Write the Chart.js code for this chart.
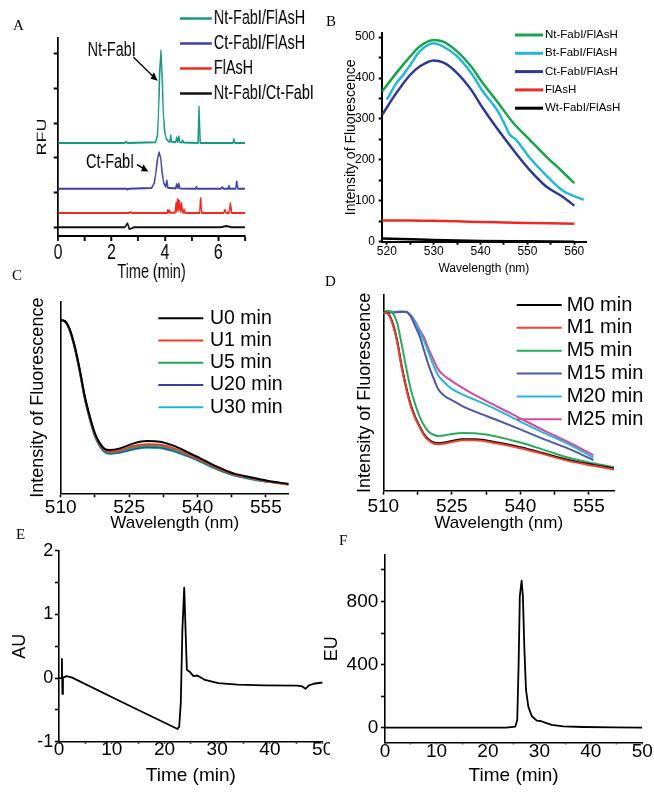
<!DOCTYPE html>
<html>
<head>
<meta charset="utf-8">
<script src="https://cdn.jsdelivr.net/npm/chart.js@4.4.1/dist/chart.umd.min.js"></script>
<style>
html, body { margin: 0; padding: 0; background: #fff; }
#fig { position: relative; width: 654px; height: 792px; overflow: hidden; background: #fff; }
.panel { position: absolute; }
.tag { position: absolute; font-family: 'Liberation Serif', 'Times New Roman', serif; font-size: 15px; line-height: 1; color: #000; }
</style>
</head>
<body>
<div id="fig">
  <div class="panel" style="left:0;top:0;width:458px;height:285px;transform:scaleX(0.72);transform-origin:0 0;"><canvas id="chartA"></canvas></div>
  <div class="panel" style="left:330px;top:0;width:324px;height:285px;"><canvas id="chartB"></canvas></div>
  <div class="panel" style="left:0;top:285px;width:330px;height:250px;"><canvas id="chartC"></canvas></div>
  <div class="panel" style="left:330px;top:285px;width:324px;height:250px;"><canvas id="chartD"></canvas></div>
  <div class="panel" style="left:0;top:530px;width:330px;height:262px;"><canvas id="chartE"></canvas></div>
  <div class="panel" style="left:315px;top:530px;width:339px;height:262px;"><canvas id="chartF"></canvas></div>
  <div class="tag" style="left:13px;top:18px">A</div>
  <div class="tag" style="left:326px;top:14px">B</div>
  <div class="tag" style="left:12px;top:268px">C</div>
  <div class="tag" style="left:325px;top:274px">D</div>
  <div class="tag" style="left:16px;top:527px">E</div>
  <div class="tag" style="left:339px;top:533px">F</div>
</div>
<script>
const FONT = "'Liberation Sans', Arial, Helvetica, sans-serif";

// ---- A: electropherograms (traces stacked, y in tick units) ----
const aTimeTicks = [0, 1, 2, 3, 4, 5, 6, 7];
const aTimeLabels = [0, 2, 4, 6];
const aRfuTicks = [0, 1, 2, 3, 4, 5];
const aNtT = [0, 2.5, 2.55, 2.6, 3.65, 3.72, 3.76, 3.8, 3.85, 3.9, 3.94, 3.99, 4.05, 4.14, 4.19, 4.22, 4.25, 4.4, 4.44, 4.48, 4.52, 4.56, 4.64, 4.67, 4.7, 5.24, 5.28, 5.32, 6.55, 6.58, 6.62, 7];
const aNtV = [2.43, 2.43, 2.46, 2.43, 2.45, 2.63, 3.3, 4.37, 5.09, 4.27, 3.3, 2.77, 2.55, 2.47, 2.46, 2.65, 2.46, 2.45, 2.59, 2.46, 2.62, 2.45, 2.44, 2.5, 2.44, 2.43, 3.47, 2.43, 2.43, 2.54, 2.43, 2.43];
const aCtT = [0, 2.55, 2.6, 2.65, 3.5, 3.6, 3.66, 3.72, 3.78, 3.84, 3.9, 3.96, 4.03, 4.07, 4.11, 4.4, 4.44, 4.48, 4.52, 4.55, 4.58, 5.15, 5.18, 5.21, 6.1, 6.15, 6.2, 6.37, 6.4, 6.43, 6.65, 6.69, 6.73, 7];
const aCtV = [1.11, 1.11, 1.09, 1.11, 1.13, 1.27, 1.56, 1.95, 2.16, 2.0, 1.56, 1.27, 1.16, 1.35, 1.14, 1.12, 1.25, 1.13, 1.27, 1.13, 1.12, 1.11, 1.17, 1.11, 1.11, 1.16, 1.11, 1.11, 1.19, 1.11, 1.11, 1.32, 1.11, 1.11];
const aFlT = [0, 2.65, 2.7, 2.78, 4.08, 4.11, 4.14, 4.17, 4.2, 4.38, 4.42, 4.45, 4.48, 4.51, 4.54, 4.58, 4.62, 4.66, 4.69, 4.72, 4.76, 5.3, 5.34, 5.38, 6.2, 6.25, 6.3, 6.4, 6.45, 6.5, 7];
const aFlV = [0.41, 0.41, 0.44, 0.41, 0.41, 0.5, 0.42, 0.49, 0.42, 0.42, 0.71, 0.45, 0.81, 0.5, 0.77, 0.45, 0.7, 0.43, 0.42, 0.52, 0.41, 0.41, 0.84, 0.41, 0.41, 0.51, 0.41, 0.41, 0.7, 0.41, 0.41];
const aMixT = [0, 2.5, 2.6, 2.67, 2.75, 2.85, 6.1, 6.3, 6.5, 7];
const aMixV = [0, 0, 0.12, -0.05, -0.03, 0, 0, 0.04, 0, 0];
const aNotes = [
  { text: 'Nt-FabI', at: [2.01, 5.09], from: [2.82, 4.9], to: [3.73, 4.22] },
  { text: 'Ct-FabI', at: [1.95, 1.86], from: [2.95, 1.81], to: [3.38, 1.61] }
];

// ---- B: emission spectra ----
const bWaveTicks = [520, 525, 530, 535, 540, 545, 550, 555, 560];
const bWaveLabels = [520, 530, 540, 550, 560];
const bIntTicks = [0, 50, 100, 150, 200, 250, 300, 350, 400, 450, 500];
const bIntLabels = [0, 100, 200, 300, 400, 500];
const bNtX = [519, 522, 525, 527, 530, 532, 535, 538, 540.5, 543.5, 547, 550.5, 554, 557.5, 560];
const bNtY = [367, 412, 453, 477, 493, 489, 465, 428, 387, 343, 290, 249, 208, 171, 143];
const bBtX = [520, 522, 523.3, 525, 527, 530, 532, 535, 538, 540.5, 543.5, 545, 546.2, 547.5, 550.5, 554, 557.5, 562];
const bBtY = [347, 387, 405, 432, 465, 485, 477, 453, 412, 367, 322, 290, 262, 250, 205, 162, 125, 102];
const bCtX = [519, 522, 525, 527, 530, 532, 535, 538, 540.5, 543.5, 547, 550.5, 554, 557.5, 560];
const bCtY = [310, 363, 408, 428, 443, 438, 412, 371, 326, 277, 224, 175, 135, 110, 88];
const bFlX = [519, 525, 530, 535, 540, 545, 550, 555, 560];
const bFlY = [52, 52, 51, 50, 48, 47, 46, 45, 44];
const bWtX = [519, 525, 530, 540, 550, 560];
const bWtY = [8, 6, 4, 2, 1, 0];

// ---- C / D: spectra over time ----
const cdWaveTicks = [510, 517.5, 525, 532.5, 540, 547.5, 555];
const cdWaveLabels = [510, 525, 540, 555];
const cWave = [510, 510.9, 511.9, 513.1, 514.2, 515.3, 516.4, 517.5, 518.6, 519.7, 520.8, 523, 526, 528.9, 531.8, 534.7, 537.7, 540.6, 544.3, 547.9, 551.6, 555.3, 560];
const cU0 = [90.6, 90, 86.2, 76.6, 64.4, 50.5, 40, 31.4, 26.1, 23.1, 22.6, 23.5, 26.1, 27.3, 27.0, 24.9, 21.7, 18.3, 13.9, 10.4, 8.4, 6.6, 4.9];
const cU1 = [90.6, 90, 86.1, 76.4, 64.1, 50.2, 39.6, 31, 25.6, 22.5, 21.8, 22.6, 24.7, 25.6, 25.4, 23.6, 20.7, 17.5, 13.3, 10, 8.1, 6.3, 4.6];
const cU5 = [90.6, 90, 86, 76.2, 63.9, 49.9, 39.3, 30.6, 25.2, 22.1, 21.3, 22, 23.9, 24.8, 24.6, 22.9, 20.2, 17.1, 13, 9.8, 7.9, 6.1, 4.4];
const cU20 = [90.5, 89.9, 85.8, 75.9, 63.5, 49.5, 38.9, 30.2, 24.8, 21.7, 20.9, 21.5, 23.3, 24.2, 24, 22.4, 19.8, 16.8, 12.7, 9.6, 7.7, 6.0, null];
const cU30 = [90.4, 89.8, 85.6, 75.6, 63.1, 49.1, 38.5, 29.8, 24.5, 21.4, 20.6, 21.2, 22.9, 23.8, 23.6, 22, 19.4, 16.5, 12.5, 9.4, 7.5, 5.9, null];

const dWave = [510, 511, 512, 513, 514, 515, 516, 517, 518, 519, 520, 521, 522, 523.5, 525, 527.5, 530, 535, 540, 545, 550, 556, 560.5];
const dM0 = [91.2, 90.6, 86, 77, 64, 53, 44, 37.5, 32.7, 28.5, 26, 24.6, 24.2, 24.6, 25.4, 26.3, 26.3, 24.6, 22.2, 19.2, 16, 13.2, 11.4];
const dM1 = [91.2, 90.4, 85.4, 76.2, 63.2, 52.2, 43.3, 37, 32.2, 28, 25.5, 24.1, 23.7, 24.1, 24.9, 25.8, 25.8, 24.1, 21.7, 18.7, 15.5, 12.7, 10.8];
const dM5 = [91, 92, 91, 86, 75, 63, 52, 44, 37.6, 33, 30, 28.6, 28, 28.3, 29, 29.5, 29.3, 27.6, 24.6, 21, 17.2, 14, 12];
const dM15 = [91, 91, 91, 91.2, 91.5, 91.5, 89, 84, 78.7, 71, 63.5, 57.5, 52, 48.3, 46.3, 43, 40.5, 36, 31.3, 26.5, 22, 15.7, null];
const dM20 = [91, 91, 91.3, 91.5, 91.5, 91.3, 89.5, 86, 81, 76, 70, 64, 59, 55, 52, 49, 46.5, 41.2, 35.3, 29.7, 24.4, 17, null];
const dM25 = [91, 91, 91.3, 91.5, 91.5, 91.3, 89.8, 86.5, 82, 78, 72, 67, 62, 58.5, 56, 52.3, 49, 42.9, 37, 31, 25.4, 18.2, null];

// ---- E / F: HPLC traces ----
const efTimeTicks = [0, 5, 10, 15, 20, 25, 30, 35, 40, 45, 50];
const efTimeLabels = [0, 10, 20, 30, 40, 50];
const eAuTicks = [-1, -0.5, 0, 0.5, 1, 1.5, 2];
const eAuLabels = [-1, 0, 1, 2];
const eTime = [0, 0.4, 0.55, 0.65, 0.75, 0.9, 1.4, 2.4, 12, 22.5, 22.8, 23.1, 23.4, 23.75, 24.0, 24.25, 24.9, 25.5, 26.25, 27.7, 30.2, 33.9, 38.9, 45.2, 46.1, 46.75, 47.4, 48.3, 50];
const eAU = [0, 0, 0.3, -0.25, 0, 0.01, 0.03, 0.01, -0.38, -0.8, -0.76, -0.39, 0.76, 1.42, 0.76, 0.13, 0.09, 0.03, 0.04, -0.03, -0.08, -0.105, -0.115, -0.12, -0.13, -0.17, -0.115, -0.09, -0.07];
const fEuTicks = [0, 200, 400, 600, 800, 1000];
const fEuLabels = [0, 400, 800];
const fTime = [0, 23.6, 25.3, 25.7, 25.97, 26.2, 26.55, 26.8, 27.07, 27.4, 27.85, 28.5, 29.5, 30.25, 31.1, 32.4, 34.65, 38.5, 44.4, 50];
const fEU = [0, 0, 6, 49, 408, 832, 933, 832, 514, 239, 133, 74, 44, 42, 32, 17, 8, 4, 2, 0];

// --- helpers ---
function line(label, xs, ys, color, width, smooth) {
    return {
        label: label,
        data: xs.map((x, i) => ({ x: x, y: ys[i] })),
        borderColor: color,
        backgroundColor: color,
        borderWidth: width,
        borderJoinStyle: 'round',
        pointRadius: 0,
        fill: false,
        spanGaps: false,
        tension: 0,
        cubicInterpolationMode: smooth ? 'monotone' : 'default'
    };
}

function axis(o) {
    const vertical = o.pos === 'left';
    const s = {
        type: 'linear',
        position: o.pos,
        min: o.min,
        max: o.max,
        afterFit: sc => { if (vertical) sc.width = o.box; else sc.height = o.box; },
        border: { display: true, color: '#000', width: o.lw },
        grid: { drawOnChartArea: false, drawTicks: !!o.ticks, tickLength: o.tl || 0, tickWidth: o.tw || o.lw, tickColor: '#000' },
        ticks: {
            display: !!o.labels,
            autoSkip: false,
            maxRotation: 0,
            minRotation: 0,
            padding: o.pad || 0,
            color: '#000',
            font: { family: FONT, size: o.size || 12, lineHeight: 1 },
            callback: v => (o.labels && o.labels.indexOf(v) !== -1) ? String(v) : ''
        },
        title: {
            display: true,
            text: o.title,
            color: '#000',
            font: { family: FONT, size: o.tsize, lineHeight: 1 },
            padding: vertical ? { top: o.tpad, bottom: 0 } : { top: 0, bottom: o.tpad }
        }
    };
    if (o.ticks) s.afterBuildTicks = sc => { sc.ticks = o.ticks.map(v => ({ value: v })); };
    return s;
}

function legendBox(cfg) {
    return {
        id: 'legendBox',
        afterDraw(chart) {
            const ctx = chart.ctx;
            ctx.save();
            ctx.font = cfg.size + 'px ' + FONT;
            ctx.textBaseline = 'middle';
            ctx.textAlign = 'left';
            chart.data.datasets.forEach((ds, i) => {
                const y = cfg.y + cfg.dy * i;
                ctx.strokeStyle = ds.borderColor;
                ctx.lineWidth = cfg.lw;
                ctx.beginPath();
                ctx.moveTo(cfg.x, y);
                ctx.lineTo(cfg.x + cfg.len, y);
                ctx.stroke();
                ctx.fillStyle = '#000';
                ctx.fillText(ds.label, cfg.x + cfg.len + cfg.gap, y);
            });
            ctx.restore();
        }
    };
}

const peakNotes = {
    id: 'peakNotes',
    afterDatasetsDraw(chart) {
        const ctx = chart.ctx, sx = chart.scales.x, sy = chart.scales.y;
        ctx.save();
        ctx.font = '20px ' + FONT;
        ctx.textAlign = 'center';
        ctx.textBaseline = 'middle';
        ctx.fillStyle = '#000';
        ctx.strokeStyle = '#000';
        ctx.lineWidth = 1.6;
        aNotes.forEach(n => {
            ctx.fillText(n.text, sx.getPixelForValue(n.at[0]), sy.getPixelForValue(n.at[1]));
            const x1 = sx.getPixelForValue(n.from[0]), y1 = sy.getPixelForValue(n.from[1]);
            const x2 = sx.getPixelForValue(n.to[0]), y2 = sy.getPixelForValue(n.to[1]);
            const ang = Math.atan2(y2 - y1, x2 - x1);
            ctx.beginPath();
            ctx.moveTo(x1, y1);
            ctx.lineTo(x2 - 6 * Math.cos(ang), y2 - 6 * Math.sin(ang));
            ctx.stroke();
            ctx.beginPath();
            ctx.moveTo(x2, y2);
            ctx.lineTo(x2 - 10 * Math.cos(ang - 0.4), y2 - 10 * Math.sin(ang - 0.4));
            ctx.lineTo(x2 - 10 * Math.cos(ang + 0.4), y2 - 10 * Math.sin(ang + 0.4));
            ctx.closePath();
            ctx.fill();
        });
        ctx.restore();
    }
};

function panel(id, datasets, W, H, area, xo, yo, extra) {
    return new Chart(document.getElementById(id), {
        type: 'line',
        data: { datasets: datasets },
        options: {
            responsive: true,
            maintainAspectRatio: false,
            animation: false,
            devicePixelRatio: 1,
            events: [],
            layout: { autoPadding: false, padding: { left: 0, top: area.top, right: W - area.right, bottom: 0 } },
            plugins: { legend: { display: false }, tooltip: { enabled: false } },
            scales: {
                x: axis(Object.assign({ pos: 'bottom', box: H - area.bottom }, xo)),
                y: axis(Object.assign({ pos: 'left', box: area.left }, yo))
            }
        },
        plugins: extra || []
    });
}

// A (drawn wide, squeezed horizontally by the container)
panel('chartA', [
    line('Nt-FabI/FlAsH', aNtT, aNtV, '#16977f', 2, false),
    line('Ct-FabI/FlAsH', aCtT, aCtV, '#3b41a6', 2, false),
    line('FlAsH', aFlT, aFlV, '#f5281e', 2, false),
    line('Nt-FabI/Ct-FabI', aMixT, aMixV, '#111111', 2, false)
], 458, 285, { left: 80.6, top: 38, right: 340.3, bottom: 236 },
    { min: 0, max: 7, ticks: aTimeTicks, labels: aTimeLabels, lw: 2, tw: 2.6, tl: 5, pad: 1, size: 22, title: 'Time (min)', tsize: 20, tpad: 3 },
    { min: -0.25, max: 5.45, ticks: aRfuTicks, labels: [], lw: 2.6, tw: 2, tl: 6, size: 12, title: 'RFU', tsize: 18, tpad: 50 },
    [legendBox({ x: 250, y: 18.5, dy: 25, len: 44, gap: 3, size: 20, lw: 2.5 }), peakNotes]);

// B
panel('chartB', [
    line('Nt-FabI/FlAsH', bNtX, bNtY, '#17a54a', 2.5, true),
    line('Bt-FabI/FlAsH', bBtX, bBtY, '#22b8d6', 2.5, true),
    line('Ct-FabI/FlAsH', bCtX, bCtY, '#2c3a94', 2.5, true),
    line('FlAsH', bFlX, bFlY, '#ee2a24', 2.5, true),
    line('Wt-FabI/FlAsH', bWtX, bWtY, '#000000', 2.5, true)
], 324, 285, { left: 51.7, top: 33, right: 256, bottom: 241.7 },
    { min: 518.9, max: 562.5, ticks: bWaveTicks, labels: bWaveLabels, lw: 2, tl: 3, pad: 0.8, size: 12, title: 'Wavelength (nm)', tsize: 12, tpad: 10.7 },
    { min: 0, max: 510, ticks: bIntTicks, labels: bIntLabels, lw: 2, tl: 3, pad: 3.7, size: 12, title: 'Intensity of Fluorescence', tsize: 14, tpad: 13.7 },
    [legendBox({ x: 185, y: 35, dy: 18.3, len: 28, gap: 2, size: 11.5, lw: 3 })]);

// C
panel('chartC', [
    line('U0 min', cWave, cU0, '#000000', 2, true),
    line('U1 min', cWave, cU1, '#ee3a2c', 2, true),
    line('U5 min', cWave, cU5, '#1ea65a', 2, true),
    line('U20 min', cWave, cU20, '#3b3f9e', 2, true),
    line('U30 min', cWave, cU30, '#1fb4d6', 2, true)
], 330, 250, { left: 60.7, top: 17, right: 288.7, bottom: 208.3 },
    { min: 510, max: 560, ticks: cdWaveTicks, labels: cdWaveLabels, lw: 1.6, tl: 4, pad: 0.5, size: 19, title: 'Wavelength (nm)', tsize: 17, tpad: 3.5 },
    { min: 0, max: 100, ticks: null, labels: null, lw: 1.6, title: 'Intensity of Fluorescence', tsize: 18, tpad: 29.3 },
    [legendBox({ x: 158.3, y: 33.3, dy: 22.25, len: 45, gap: 6.7, size: 19.5, lw: 2 })]);

// D
const dSets = [
    line('M0 min', dWave, dM0, '#000000', 2, true),
    line('M1 min', dWave, dM1, '#f0402f', 2, true),
    line('M5 min', dWave, dM5, '#2aaa5e', 2, true),
    line('M15 min', dWave, dM15, '#5056aa', 2, true),
    line('M20 min', dWave, dM20, '#25b6d8', 2, true),
    line('M25 min', dWave, dM25, '#d64a9e', 2, true)
];
dSets[1].order = -1;
panel('chartD', dSets, 324, 250, { left: 53.3, top: 10, right: 284, bottom: 205.7 },
    { min: 510, max: 560.5, ticks: cdWaveTicks, labels: cdWaveLabels, lw: 1.6, tl: 4, pad: 2.5, size: 19, title: 'Wavelength (nm)', tsize: 17, tpad: 3.5 },
    { min: 0, max: 100, ticks: null, labels: null, lw: 1.6, title: 'Intensity of Fluorescence', tsize: 18, tpad: 26 },
    [legendBox({ x: 186.7, y: 20, dy: 22.86, len: 45, gap: 5, size: 20, lw: 2 })]);

// E
panel('chartE', [line('AU', eTime, eAU, '#000000', 1.8, false)], 330, 262,
    { left: 59, top: 20.7, right: 326.5, bottom: 211.7 },
    { min: 0, max: 50, ticks: efTimeTicks, labels: efTimeLabels, lw: 1.6, tl: 2, pad: -3.2, size: 19, title: 'Time (min)', tsize: 19, tpad: 6.5 },
    { min: -1, max: 2, ticks: eAuTicks, labels: eAuLabels, lw: 1.6, tl: 4, pad: 1.7, size: 18, title: 'AU', tsize: 18, tpad: 11 });

// F
panel('chartF', [line('EU', fTime, fEU, '#000000', 1.8, false)], 339, 262,
    { left: 70, top: 25, right: 327.3, bottom: 212.3 },
    { min: 0, max: 50, ticks: efTimeTicks, labels: efTimeLabels, lw: 1.6, tl: 2, pad: -2.1, size: 19, title: 'Time (min)', tsize: 19, tpad: 6.8 },
    { min: -93, max: 1095, ticks: fEuTicks, labels: fEuLabels, lw: 1.6, tl: 4, pad: 2.7, size: 19, title: 'EU', tsize: 18, tpad: 8 });
</script>
</body>
</html>
